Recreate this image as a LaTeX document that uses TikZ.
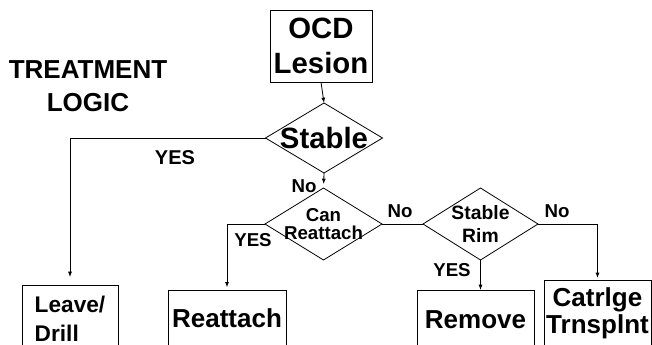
\documentclass[tikz,border=0pt]{standalone}
\usepackage{fontspec}
\setmainfont{Liberation Sans}
\usetikzlibrary{shapes.geometric,arrows.meta}

\tikzset{
  box/.style={draw, rectangle, inner sep=0pt, outer sep=0pt, anchor=north, align=center, line width=0.6pt},
  decision/.style={draw, diamond, inner sep=0pt, outer sep=0pt, line width=0.6pt},
  lbl/.style={font=\fontsize{14}{14}\selectfont\bfseries, inner sep=0pt},
  arr/.style={-{Latex[length=4pt,width=3pt]}, line width=0.6pt},
  ln/.style={line width=0.6pt},
}

\begin{document}
\begin{tikzpicture}[x=0.75pt,y=0.75pt,yscale=-1,xscale=1]
\useasboundingbox (0,0) rectangle (652,345);
\clip (0,0) rectangle (652,345);

% Text Node
\node [align=center, inner sep=0pt, font=\fontsize{19.5}{24.75}\selectfont\bfseries] (title) at (88,86) {TREATMENT\\LOGIC};

%Shape: Rectangle
\node [box, anchor=center, minimum width=76.5pt, minimum height=54pt, font=\fontsize{22}{26}\selectfont\bfseries] (ocd) at (321,46) {OCD\\Lesion};

%Shape: Diamond
\node [decision, minimum width=87.75pt, minimum height=52.5pt] (stable) at (324,138) {};
\node [inner sep=0pt, font=\fontsize{22}{26}\selectfont\bfseries] (stable-txt) at (stable.center) {Stable};
%Shape: Diamond
\node [decision, minimum width=87.75pt, minimum height=54pt] (canre) at (323.5,224) {};
\node [inner sep=0pt, align=center, font=\fontsize{14}{13.5}\selectfont\bfseries] (canre-txt) at (canre.center) {Can\\Reattach};
%Shape: Diamond
\node [decision, minimum width=86.25pt, minimum height=54pt] (rim) at (480.5,224) {};
\node [inner sep=0pt, align=center, font=\fontsize{14.5}{17}\selectfont\bfseries] (rim-txt) at (rim.center) {Stable\\Rim};

%Shape: Rectangle
\node [box, align=left, minimum width=72pt, minimum height=50.25pt, font=\fontsize{17}{21.75}\selectfont\bfseries] (leave) at (70,285) {Leave/\\Drill};
%Shape: Rectangle
\node [box, minimum width=88.5pt, minimum height=42.75pt, font=\fontsize{19.5}{22}\selectfont\bfseries] (reattach) at (227,290) {Reattach};
%Shape: Rectangle
\node [box, minimum width=87.75pt, minimum height=44.25pt, font=\fontsize{19.5}{22}\selectfont\bfseries] (remove) at (475.5,290) {Remove};
%Shape: Rectangle
\node [box, minimum width=80.25pt, minimum height=49.5pt, font=\fontsize{19.5}{20}\selectfont\bfseries] (cartilage) at (597.5,280) {Catrlge\\Trnsplnt};

%Straight Lines
\draw [arr] (ocd.south) -- (stable.north);
\draw [arr, shorten >=3pt] (stable.south) -- (canre.north);
\draw [arr, shorten >=6pt] (stable.west) -| (leave.north);
\draw [arr, shorten >=2pt] (canre.west) -| (reattach.north);
\draw [ln] (canre.east) -- (rim.west);
\draw [arr] (rim.south) -- (rim.south |- remove.north);
\draw [arr, shorten >=1.5pt] (rim.east) -| (cartilage.north);

% Text Node
\node [lbl] (no-stable) at (304,186) {No};
\node [lbl, font=\fontsize{15}{15}\selectfont\bfseries] (yes-stable) at (175,158) {YES};
\node [lbl] (yes-canre) at (253,240) {YES};
\node [lbl] (no-canre) at (400,211) {No};
\node [lbl] (yes-rim) at (452,270) {YES};
\node [lbl] (no-rim) at (557,211) {No};
\end{tikzpicture}
\end{document}
